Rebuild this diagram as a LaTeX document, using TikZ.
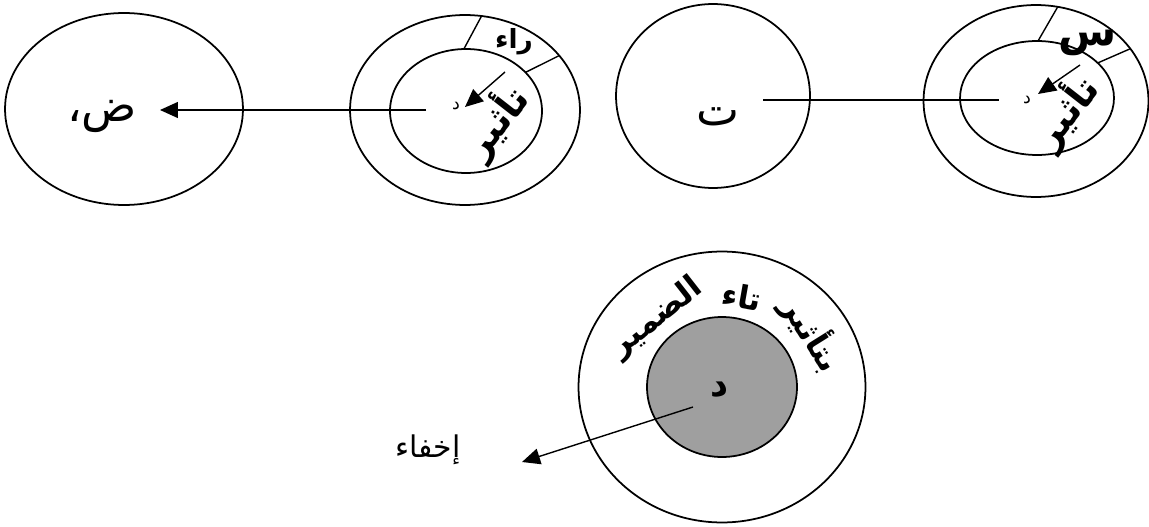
\documentclass[tikz,border=0pt]{standalone}
\usepackage{fontspec}
\newfontfamily\arabicfont[Script=Arabic]{DejaVu Sans}
\TeXXeTstate=1
\usetikzlibrary{shapes.geometric,arrows.meta}
\tikzset{
  ring/.style={ellipse, draw=black, line width=1pt, inner sep=0pt, outer sep=0pt},
  corering/.style={ellipse, draw=black, line width=1pt, fill=gray!75, inner sep=0pt, outer sep=0pt},
  letter/.style={inner sep=1pt, font=\arabicfont\fontsize{26}{30}\selectfont},
  effect/.style={inner sep=0pt, font=\arabicfont\bfseries\fontsize{18}{22}\selectfont},
  smalltag/.style={inner sep=0pt, font=\arabicfont\fontsize{10}{12}\selectfont},
  linkarrow/.style={-{Triangle[length=3.6mm,width=3.2mm]}, line width=0.8pt},
  spoke/.style={line width=0.8pt},
}

\begin{document}
\begin{tikzpicture}[x=0.02cm, y=-0.02cm]
  \useasboundingbox (0,0) rectangle (1149,527);

  % Top row, from left to right
  \node[ring, minimum width=4.76cm, minimum height=3.84cm] (dadring) at (124,109) {};
  \node[ring, minimum width=4.6cm, minimum height=3.8cm] (raouter) at (465,110) {};
  \node[ring, minimum width=3.04cm, minimum height=2.48cm] (rainner) at (466,111) {};
  \node[ring, minimum width=3.88cm, minimum height=3.68cm] (taring) at (713,96) {};
  \node[ring, minimum width=4.5cm, minimum height=3.84cm] (sinouter) at (1036,101) {};
  \node[ring, minimum width=3.08cm, minimum height=2.28cm] (sininner) at (1037,98) {};

  % Bottom pair
  \node[ring, minimum width=5.74cm, minimum height=5.42cm] (damouter) at (722,387) {};
  \node[corering, minimum width=3.0cm, minimum height=2.8cm] (daminner) at (722,387) {};

  % Letters
  \node[letter] (dad) at (102,116) {\beginR ض،\endR};
  \node[letter] (ta) at (718,117) {\beginR ت\endR};
  \node[effect, font=\arabicfont\bfseries\fontsize{15}{18}\selectfont] (ra) at (514,42) {\beginR راء\endR};
  \node[effect, font=\arabicfont\bfseries\fontsize{24}{28}\selectfont] (sin) at (1088,43) {\beginR س\endR};
  \node[smalltag] (dalone) at (456,106) {\beginR د\endR};
  \node[smalltag] (daltwo) at (1027,100) {\beginR د\endR};
  \node[effect, font=\arabicfont\bfseries\fontsize{20}{24}\selectfont] (dalbig) at (720,390) {\beginR د\endR};
  \node[letter, font=\arabicfont\fontsize{17}{20}\selectfont] (ikhfa) at (428,450) {\beginR إخفاء\endR};

  % Effect words
  \node[effect, font=\arabicfont\bfseries\fontsize{21}{25}\selectfont, rotate=52] (effectone) at (496,122) {\beginR تأثير\endR};
  \node[effect, font=\arabicfont\bfseries\fontsize{21}{25}\selectfont, rotate=52] (effecttwo) at (1066,112) {\beginR تأثير\endR};
  \node[effect, rotate=-58] (wordone) at (812,334) {\beginR بتأثير\endR};
  \node[effect, rotate=-10] (wordtwo) at (742,296) {\beginR تاء\endR};
  \node[effect, rotate=38] (wordthree) at (657,318) {\beginR الضمير\endR};

  % Free ends
  \coordinate (ratail) at (426,110);
  \coordinate (dadtip) at (160,110);
  \coordinate (tatail) at (763,100);
  \coordinate (sintail) at (999,100);
  \coordinate (onetail) at (505,72);
  \coordinate (onetip) at (465,107);
  \coordinate (twotail) at (1080,65);
  \coordinate (twotip) at (1038,94);
  \coordinate (damtail) at (693,407);
  \coordinate (damtip) at (522,462);

  % Connectors
  \draw[linkarrow] (ratail) -- (dadtip);
  \draw[spoke] (tatail) -- (sintail);
  \draw[linkarrow] (onetail) -- (onetip);
  \draw[linkarrow] (twotail) -- (twotip);
  \draw[linkarrow] (damtail) -- (damtip);

  % Spokes between the rings
  \draw[spoke] (rainner.92) -- (raouter.80);
  \draw[spoke] (rainner.33) -- (raouter.30);
  \draw[spoke] (sininner.89) -- (sinouter.77);
  \draw[spoke] (sininner.30) -- (sinouter.29);

\end{tikzpicture}
\end{document}
